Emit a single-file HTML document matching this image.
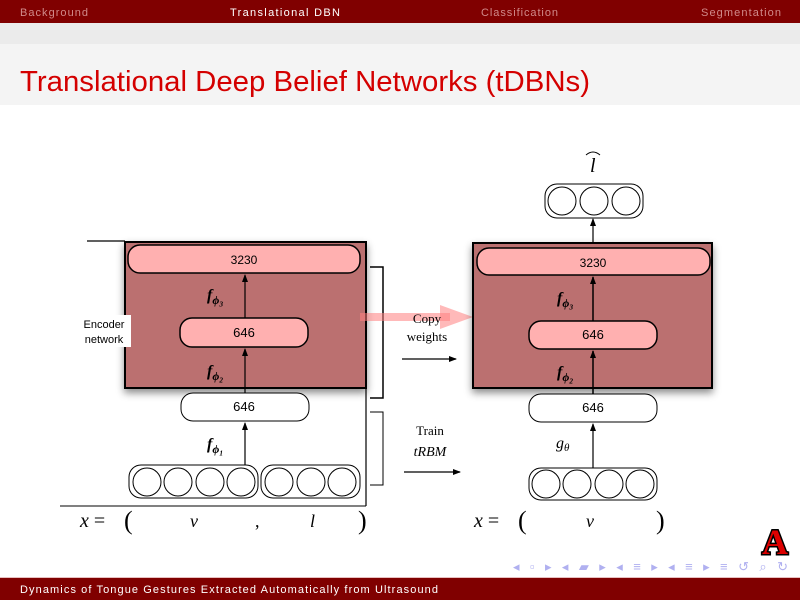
<!DOCTYPE html>
<html><head><meta charset="utf-8"><style>
html,body{margin:0;padding:0;background:#fff;}
svg{display:block}
text{font-family:"Liberation Sans",sans-serif;}
.s{font-family:"Liberation Serif",serif;}
</style></head><body>
<svg width="800" height="600" viewBox="0 0 800 600" xmlns="http://www.w3.org/2000/svg">
<defs>
<marker id="ah" markerWidth="8" markerHeight="8" refX="7" refY="4" orient="auto" markerUnits="userSpaceOnUse"><path d="M0,1 L8,4 L0,7 Z" fill="#000"/></marker>
<filter id="sh" x="-10%" y="-10%" width="120%" height="130%"><feDropShadow dx="0" dy="4" stdDeviation="4" flood-color="#000" flood-opacity="0.45"/></filter>
</defs>
<rect x="0" y="0" width="800" height="23" fill="#800000"/>
<text x="20" y="16" font-size="11" fill="#d08a8a" textLength="68">Background</text>
<text x="230" y="16" font-size="11" fill="#fff" textLength="110">Translational DBN</text>
<text x="481" y="16" font-size="11" fill="#d08a8a" textLength="77">Classification</text>
<text x="701" y="16" font-size="11" fill="#d08a8a" textLength="80">Segmentation</text>
<rect x="0" y="23" width="800" height="21" fill="#ebebeb"/>
<rect x="0" y="44" width="800" height="61" fill="#f4f4f4"/>
<text x="20" y="91" font-size="29" fill="#d40000" textLength="570" lengthAdjust="spacingAndGlyphs">Translational Deep Belief Networks (tDBNs)</text>

<!-- LEFT -->
<line x1="87" y1="241" x2="125" y2="241" stroke="#000" stroke-width="1.2"/>
<rect x="125" y="242" width="241" height="146" fill="#bb7070" stroke="#000" stroke-width="2" filter="url(#sh)"/>
<rect x="128" y="245" width="232" height="28" rx="12" fill="#ffb0b0" stroke="#000" stroke-width="1.5"/>
<text x="244" y="264" font-size="12" text-anchor="middle">3230</text>
<rect x="180" y="318" width="128" height="29" rx="12" fill="#ffb0b0" stroke="#000" stroke-width="1.5"/>
<text x="244" y="337" font-size="13" text-anchor="middle">646</text>
<rect x="181" y="393" width="128" height="28" rx="12" fill="#fff" stroke="#000" stroke-width="1"/>
<text x="244" y="411" font-size="13" text-anchor="middle">646</text>
<line x1="245" y1="318" x2="245" y2="275" stroke="#000" stroke-width="1.2" marker-end="url(#ah)"/>
<line x1="245" y1="393" x2="245" y2="349" stroke="#000" stroke-width="1.2" marker-end="url(#ah)"/>
<line x1="245" y1="466" x2="245" y2="423" stroke="#000" stroke-width="1.2" marker-end="url(#ah)"/>
<text x="207" y="300" font-size="16" class="s" font-style="italic" font-weight="bold">f<tspan font-size="12" dy="4">ϕ₃</tspan></text>
<text x="207" y="376" font-size="16" class="s" font-style="italic" font-weight="bold">f<tspan font-size="12" dy="4">ϕ₂</tspan></text>
<text x="207" y="449" font-size="16" class="s" font-style="italic" font-weight="bold">f<tspan font-size="12" dy="4">ϕ₁</tspan></text>
<rect x="129" y="465" width="129" height="33" rx="12" fill="#fff" stroke="#000"/>
<rect x="261" y="465" width="99" height="33" rx="12" fill="#fff" stroke="#000"/>
<g fill="none" stroke="#000"><circle cx="147" cy="482" r="14"/><circle cx="178" cy="482" r="14"/><circle cx="210" cy="482" r="14"/><circle cx="241" cy="482" r="14"/><circle cx="279" cy="482" r="14"/><circle cx="311" cy="482" r="14"/><circle cx="342" cy="482" r="14"/></g>
<line x1="366" y1="388" x2="366" y2="506" stroke="#000" stroke-width="1.2"/>
<line x1="60" y1="506" x2="366" y2="506" stroke="#000" stroke-width="1"/>
<rect x="74" y="315" width="57" height="32" fill="#fff"/>
<text x="104" y="328" font-size="11" text-anchor="middle">Encoder</text>
<text x="104" y="343" font-size="11" text-anchor="middle">network</text>
<path d="M370,267 H383 V398 H370" fill="none" stroke="#000" stroke-width="1.5"/>
<path d="M370,412 H383 V485 H370" fill="none" stroke="#000" stroke-width="1"/>
<text x="80" y="527" font-size="20" class="s" font-style="italic">x <tspan font-style="normal">= </tspan></text>
<text x="124" y="529" font-size="26" class="s">(</text>
<text x="190" y="527" font-size="18" class="s" font-style="italic">v</text>
<text x="255" y="527" font-size="18" class="s">,</text>
<text x="310" y="527" font-size="18" class="s" font-style="italic">l</text>
<text x="358" y="529" font-size="26" class="s">)</text>

<!-- pink arrow -->
<rect x="360" y="313" width="90" height="8" fill="#ff8080" opacity="0.55"/>
<path d="M440,305 L473,317 L440,329 Z" fill="#ff8080" opacity="0.55"/>
<text x="427" y="323" font-size="13" class="s" text-anchor="middle">Copy</text>
<text x="427" y="341" font-size="13" class="s" text-anchor="middle">weights</text>
<line x1="402" y1="359" x2="456" y2="359" stroke="#000" stroke-width="1.2" marker-end="url(#ah)"/>
<text x="430" y="435" font-size="13" class="s" text-anchor="middle">Train</text>
<text x="430" y="456" font-size="14" class="s" font-style="italic" text-anchor="middle">tRBM</text>
<line x1="404" y1="472" x2="460" y2="472" stroke="#000" stroke-width="1.2" marker-end="url(#ah)"/>

<!-- RIGHT -->
<rect x="473" y="243" width="239" height="145" fill="#bb7070" stroke="#000" stroke-width="2" filter="url(#sh)"/>
<rect x="477" y="248" width="233" height="27" rx="12" fill="#ffb0b0" stroke="#000" stroke-width="1.5"/>
<text x="593" y="267" font-size="12" text-anchor="middle">3230</text>
<rect x="529" y="321" width="128" height="28" rx="12" fill="#ffb0b0" stroke="#000" stroke-width="1.5"/>
<text x="593" y="339" font-size="13" text-anchor="middle">646</text>
<rect x="529" y="394" width="128" height="28" rx="12" fill="#fff" stroke="#000"/>
<text x="593" y="412" font-size="13" text-anchor="middle">646</text>
<line x1="593" y1="321" x2="593" y2="277" stroke="#000" stroke-width="1.5" marker-end="url(#ah)"/>
<line x1="593" y1="394" x2="593" y2="351" stroke="#000" stroke-width="1.5" marker-end="url(#ah)"/>
<line x1="593" y1="468" x2="593" y2="424" stroke="#000" stroke-width="1.2" marker-end="url(#ah)"/>
<line x1="593" y1="243" x2="593" y2="219" stroke="#000" stroke-width="1.2" marker-end="url(#ah)"/>
<text x="557" y="303" font-size="16" class="s" font-style="italic" font-weight="bold">f<tspan font-size="12" dy="4">ϕ₃</tspan></text>
<text x="557" y="377" font-size="16" class="s" font-style="italic" font-weight="bold">f<tspan font-size="12" dy="4">ϕ₂</tspan></text>
<text x="556" y="448" font-size="16" class="s" font-style="italic">g<tspan font-size="11" dy="3">θ</tspan></text>
<rect x="529" y="468" width="128" height="32" rx="12" fill="#fff" stroke="#000"/>
<g fill="none" stroke="#000"><circle cx="546" cy="484" r="14"/><circle cx="577" cy="484" r="14"/><circle cx="609" cy="484" r="14"/><circle cx="640" cy="484" r="14"/></g>
<rect x="545" y="184" width="98" height="34" rx="12" fill="#fff" stroke="#000"/>
<g fill="none" stroke="#000"><circle cx="562" cy="201" r="14"/><circle cx="594" cy="201" r="14"/><circle cx="626" cy="201" r="14"/></g>
<text x="590" y="172" font-size="20" class="s" font-style="italic">l</text>
<path d="M586,155 Q593,149 600,155" fill="none" stroke="#000"/>
<text x="474" y="527" font-size="20" class="s" font-style="italic">x <tspan font-style="normal">= </tspan></text>
<text x="518" y="529" font-size="26" class="s">(</text>
<text x="586" y="527" font-size="18" class="s" font-style="italic">v</text>
<text x="656" y="529" font-size="26" class="s">)</text>

<!-- logo -->
<text x="775" y="554" font-size="36" font-weight="bold" class="s" text-anchor="middle" fill="#d00" stroke="#000" stroke-width="3" paint-order="stroke">A</text>
<!-- nav icons -->
<g fill="#b0b0f0" font-size="13">
<text x="513" y="571" textLength="275" lengthAdjust="spacing">◂ ▫ ▸ ◂ ▰ ▸ ◂ ≡ ▸ ◂ ≡ ▸  ≡  ↺ ⌕ ↻</text>
</g>
<rect x="0" y="578" width="800" height="22" fill="#800000"/>
<rect x="0" y="577" width="800" height="1" fill="#e8c0c0"/>
<text x="20" y="593" font-size="11" fill="#fff" textLength="418">Dynamics of Tongue Gestures Extracted Automatically from Ultrasound</text>
</svg>
</body></html>
